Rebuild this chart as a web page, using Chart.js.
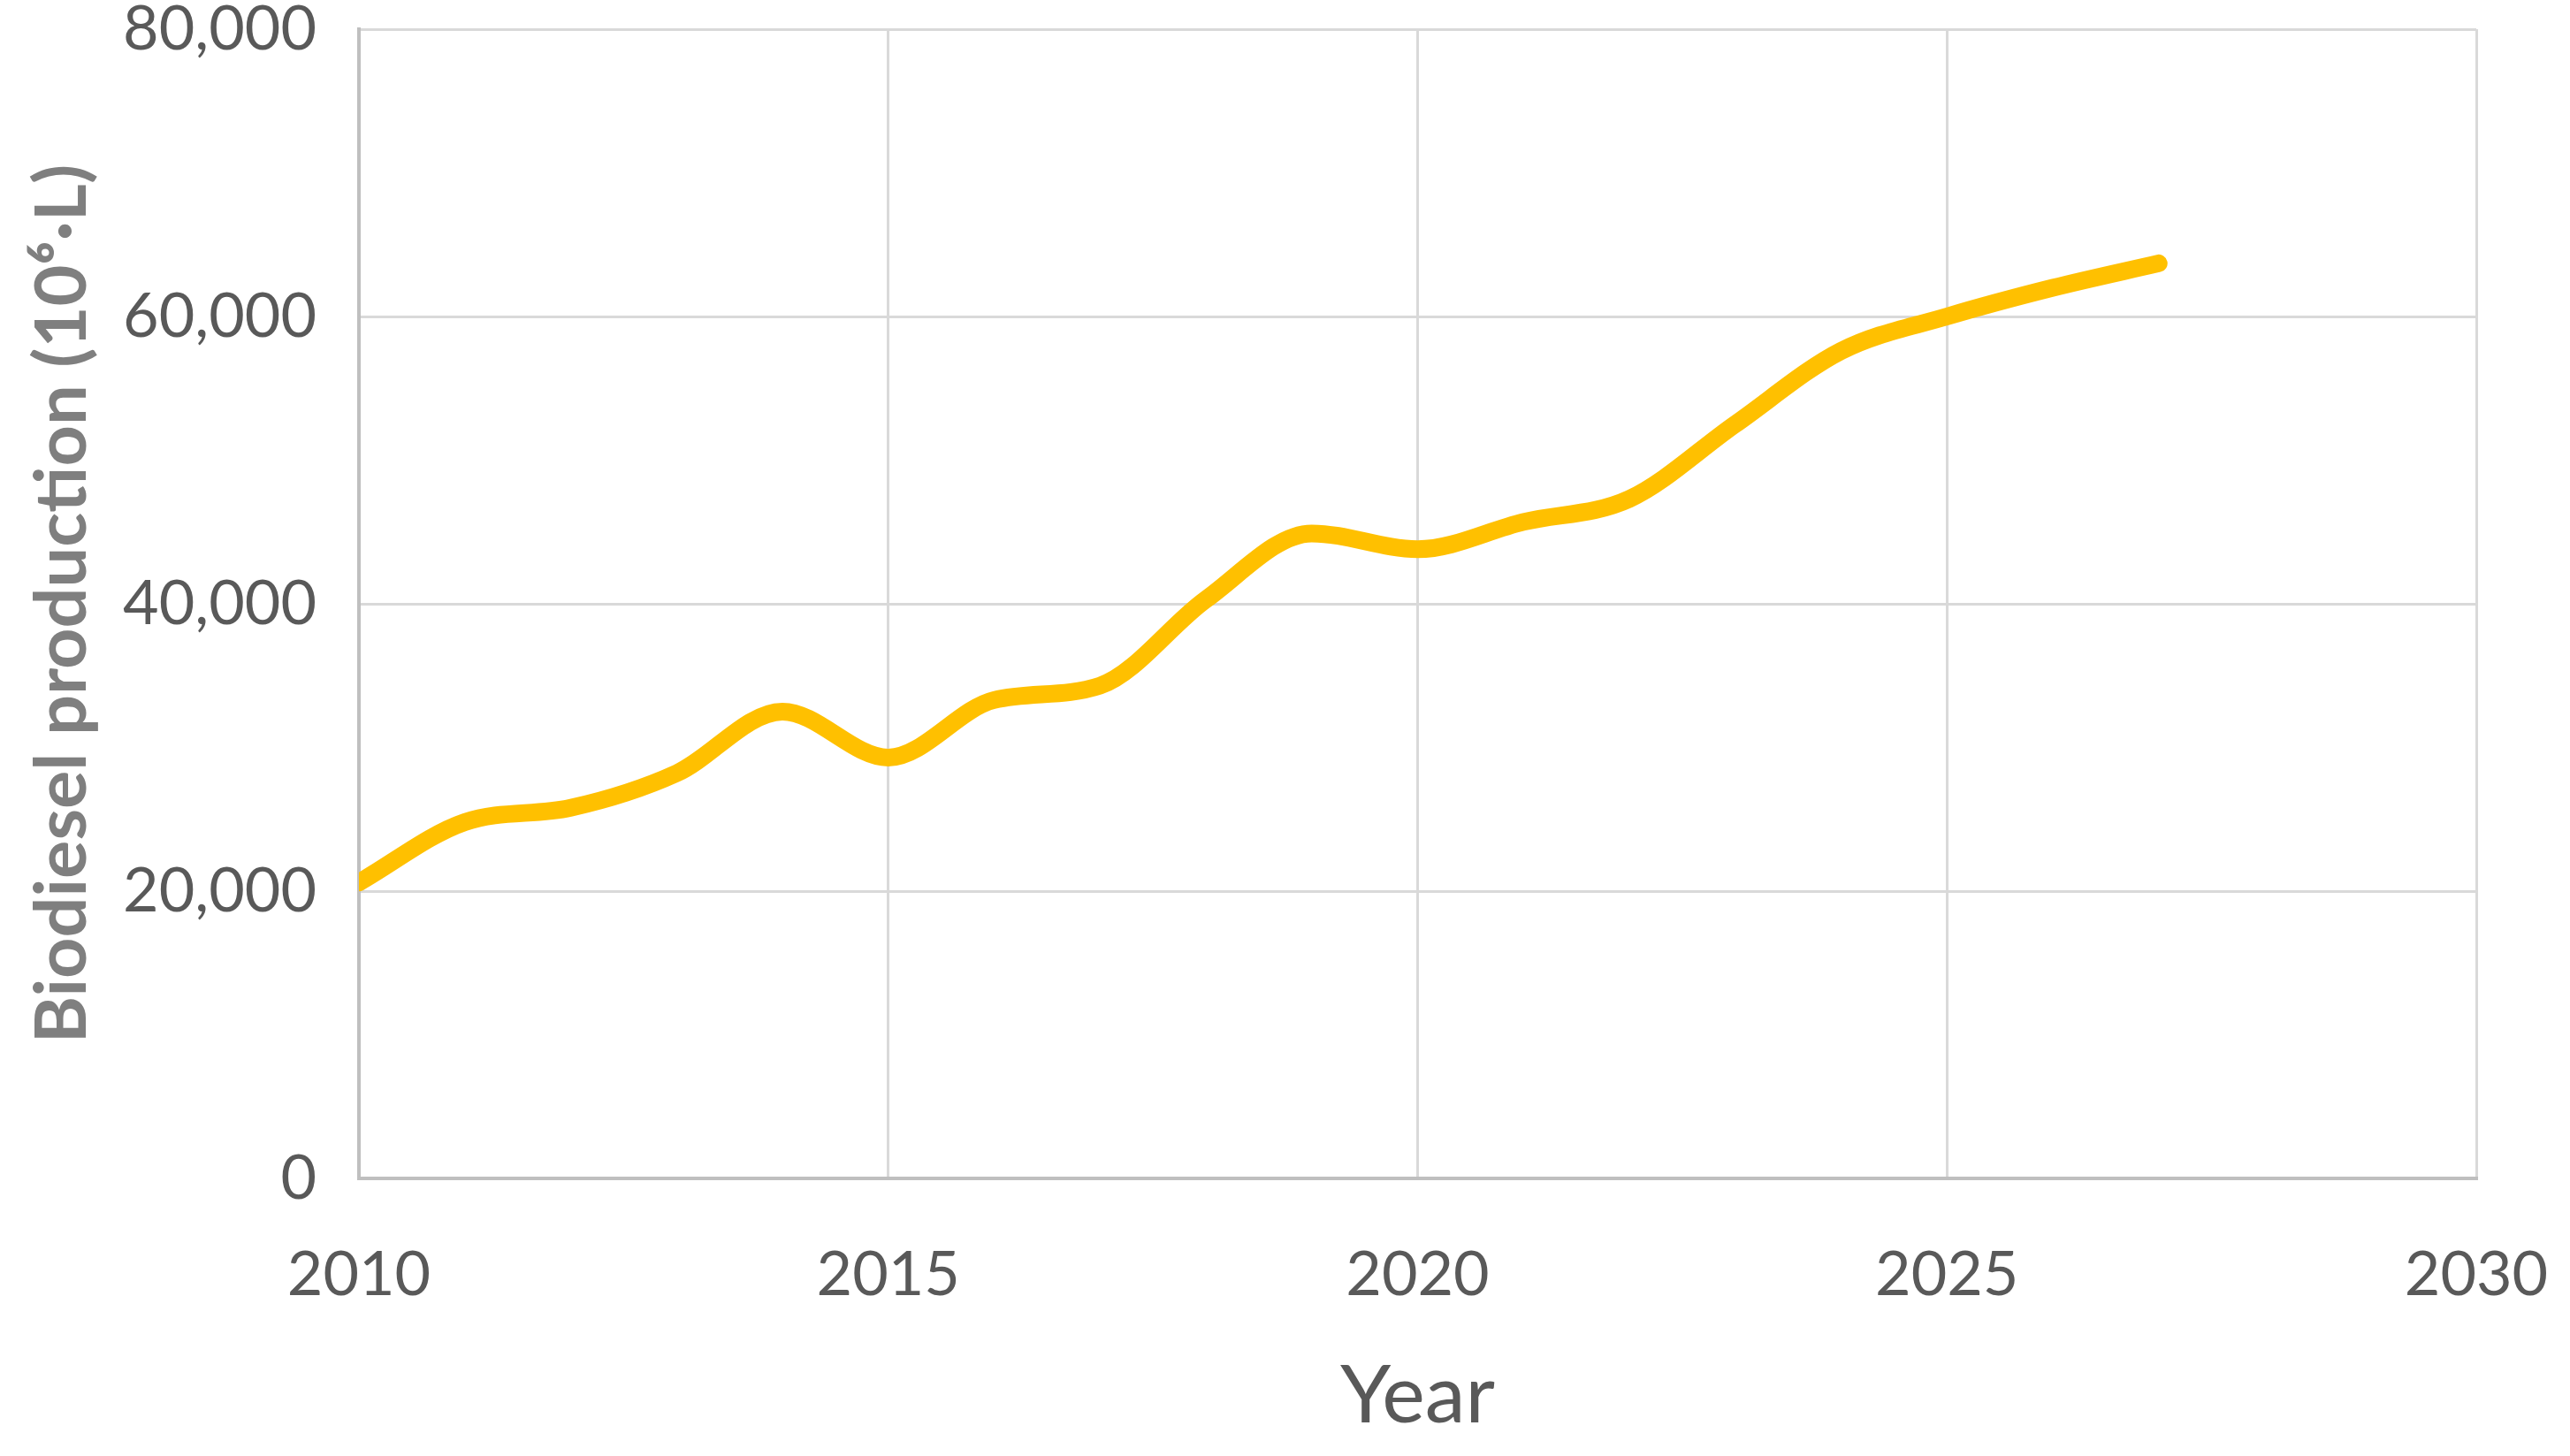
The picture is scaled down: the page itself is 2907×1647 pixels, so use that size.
<!DOCTYPE html>
<html>
<head>
<meta charset="utf-8">
<script src="https://cdn.jsdelivr.net/npm/chart.js@4/dist/chart.umd.min.js"></script>
<style>
  html, body { margin: 0; padding: 0; background: #fff; }
  #wrap { width: 2907px; height: 1647px; }
</style>
</head>
<body>
<div id="wrap"><canvas id="chart" width="2907" height="1647"></canvas></div>
<script>
const years = [2010, 2011, 2012, 2013, 2014, 2015, 2016, 2017, 2018, 2019, 2020, 2021, 2022, 2023, 2024, 2025, 2026, 2027];
const production = [20600, 24800, 25800, 28200, 32500, 29300, 33300, 34300, 40300, 44900, 43800, 45700, 47300, 52500, 57600, 60000, 62000, 63700];
const xTicks = [2010, 2015, 2020, 2025, 2030];
const yTicks = [0, 20000, 40000, 60000, 80000];

const points = years.map((y, i) => ({ x: y, y: production[i] }));

const ctx = document.getElementById("chart").getContext("2d");

const data = {
  datasets: [
    {
      label: "Biodiesel production",
      data: points,
      borderColor: "#FFC000",
      backgroundColor: "#FFC000",
      borderWidth: 20,
      borderCapStyle: "round",
      borderJoinStyle: "round",
      cubicInterpolationMode: "monotone",
      pointRadius: 0,
      fill: false,
    },
  ],
};

const options = {
  responsive: false,
  animation: false,
  layout: { padding: { left: 0, right: 106, top: 33, bottom: 0 } },
  plugins: {
    legend: { display: false },
    tooltip: { enabled: false },
  },
  scales: {
    x: {
      type: "linear",
      min: 2010,
      max: 2030,
      afterBuildTicks: (scale) => {
        scale.ticks = xTicks.map((v) => ({ value: v }));
      },
      afterFit: (scale) => {
        scale.height = 314;
        scale.paddingLeft = 0;
        scale.paddingRight = 0;
      },
      grid: { color: "#d9d9d9", lineWidth: 3, drawTicks: false },
      border: { color: "#bfbfbf", width: 4 },
      ticks: {
        padding: 67,
        color: "#595959",
        font: { family: "Lato", size: 70 },
        callback: (v) => String(v),
      },
      title: {
        display: true,
        text: "Year",
        color: "#595959",
        font: { family: "Lato", size: 92 },
        padding: { top: 4, bottom: 12 },
      },
    },
    y: {
      min: 0,
      max: 80000,
      afterBuildTicks: (scale) => {
        scale.ticks = yTicks.map((v) => ({ value: v }));
      },
      afterFit: (scale) => {
        scale.width = 406;
        scale.paddingTop = 0;
        scale.paddingBottom = 0;
      },
      grid: { color: "#d9d9d9", lineWidth: 3, drawTicks: false },
      border: { color: "#bfbfbf", width: 4 },
      ticks: {
        padding: 48,
        color: "#595959",
        font: { family: "Lato", size: 70 },
        callback: (v) => v.toLocaleString("en-US"),
      },
      title: {
        display: true,
        text: "Biodiesel production (10⁶·L)",
        color: "#7f7f7f",
        font: { family: "Lato", size: 81, weight: "bold" },
        padding: { top: 22, bottom: 0 },
      },
    },
  },
};

new Chart(ctx, { type: "line", data: data, options: options });
</script>
</body>
</html>
